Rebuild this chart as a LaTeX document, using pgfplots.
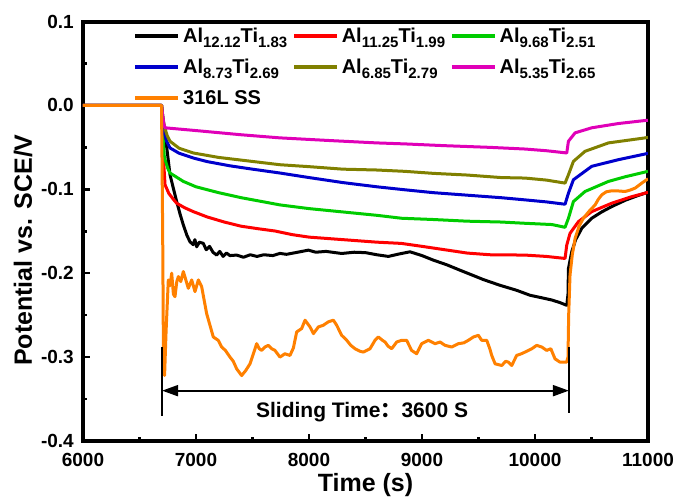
\documentclass[border=0pt]{standalone}
\usepackage{fontspec}
\setmainfont{Liberation Sans}
\newfontfamily\cjk{Noto Sans CJK SC}
\usepackage{pgfplots}
\pgfplotsset{compat=1.18}
\usetikzlibrary{arrows.meta}
\definecolor{cred}{HTML}{FF0000}
\definecolor{cgreen}{HTML}{00CC00}
\definecolor{cblue}{HTML}{0000CC}
\definecolor{colive}{HTML}{808000}
\definecolor{cmag}{HTML}{E000B8}
\definecolor{corange}{HTML}{FF8000}
\newcommand{\sbs}[1]{\raisebox{-5pt}{\fontsize{15}{15}\selectfont #1}}
\begin{document}
\begin{tikzpicture}
\path[use as bounding box] (-83pt,-55pt) rectangle (592pt,441pt);
\begin{axis}[
  width=565pt, height=419.5pt, scale only axis,
  xmin=6000, xmax=11000, ymin=-0.4, ymax=0.1,
  xtick={6000,7000,8000,9000,10000,11000},
  xticklabels={6000,7000,8000,9000,10000,11000},
  ytick={-0.4,-0.3,-0.2,-0.1,0,0.1},
  yticklabels={-0.4,-0.3,-0.2,-0.1,0.0,0.1},
  minor x tick num=1, minor y tick num=1,
  tick align=inside, tick pos=left,
  major tick length=7pt, minor tick length=4pt,
  every tick/.append style={black, line width=2.5pt},
  axis line style={line width=4pt},
  ticklabel style={font=\fontsize{19}{19}\selectfont\bfseries},
  xticklabel style={anchor=base, yshift=-25pt},
  yticklabel style={anchor=east, inner xsep=0pt, xshift=-9pt},
  xlabel={Time (s)}, ylabel={Potential vs. SCE/V},
  label style={font=\fontsize{25}{25}\selectfont\bfseries},
  xlabel style={at={(axis description cs:0.5,-0.121)}, anchor=base},
  ylabel style={at={(axis description cs:-0.0903,0.455)}, anchor=base},
  legend columns=3,
  legend style={draw=none, fill=none, at={(axis cs:6420,0.097)}, anchor=north west,
    font=\fontsize{20}{22}\selectfont\bfseries, column sep=0pt, row sep=11pt,
    nodes={inner xsep=3pt},
    /tikz/every even column/.append style={column sep=2pt}},
  legend cell align=left,
  legend image code/.code={\draw[#1, line width=3.5pt] (0pt,0pt) -- (43pt,0pt);},
  every axis plot/.append style={line width=3pt, line join=round},
]
\addplot[black] coordinates {(6000,0)(6695,0)(6705,-0.012)(6725,-0.035)(6741,-0.05)(6770,-0.0826)(6800,-0.099)(6829,-0.1146)(6860,-0.130)(6888,-0.1425)(6920,-0.155)(6947,-0.1625)(6975,-0.166)(6990,-0.160)(7006,-0.1685)(7030,-0.163)(7065,-0.1645)(7090,-0.172)(7120,-0.168)(7150,-0.175)(7183,-0.1784)(7210,-0.174)(7240,-0.180)(7270,-0.176)(7300,-0.179)(7360,-0.1784)(7420,-0.181)(7480,-0.178)(7540,-0.180)(7600,-0.178)(7680,-0.179)(7743,-0.1764)(7800,-0.1775)(7900,-0.175)(7994,-0.1725)(8060,-0.175)(8150,-0.174)(8289,-0.1765)(8400,-0.175)(8500,-0.1755)(8600,-0.178)(8702,-0.180)(8800,-0.177)(8894,-0.1745)(9000,-0.179)(9100,-0.1844)(9220,-0.190)(9336,-0.1964)(9440,-0.202)(9543,-0.2076)(9690,-0.2144)(9838,-0.2204)(9956,-0.2263)(10050,-0.229)(10150,-0.232)(10220,-0.235)(10281,-0.2383)(10292,-0.225)(10296,-0.1944)(10325,-0.1745)(10360,-0.160)(10414,-0.1465)(10502,-0.1345)(10590,-0.127)(10679,-0.1206)(10800,-0.113)(10900,-0.108)(10975,-0.1046)(11000,-0.1035)};
\addlegendentry{Al\sbs{12.12}Ti\sbs{1.83}}
\addplot[cred] coordinates {(6000,0)(6695,0)(6705,-0.04)(6715,-0.07)(6726,-0.0946)(6760,-0.105)(6800,-0.112)(6829,-0.1166)(6900,-0.122)(6976,-0.1266)(7100,-0.133)(7250,-0.139)(7400,-0.144)(7550,-0.147)(7699,-0.1497)(7850,-0.154)(8000,-0.157)(8200,-0.159)(8400,-0.161)(8600,-0.163)(8819,-0.1645)(9000,-0.168)(9200,-0.172)(9400,-0.176)(9600,-0.178)(9912,-0.1784)(10100,-0.180)(10266,-0.1824)(10281,-0.1665)(10310,-0.1525)(10384,-0.1386)(10502,-0.1266)(10679,-0.1166)(10850,-0.109)(10975,-0.1046)(11000,-0.1035)};
\addlegendentry{Al\sbs{11.25}Ti\sbs{1.99}}
\addplot[cgreen] coordinates {(6000,0)(6695,0)(6705,-0.03)(6720,-0.062)(6750,-0.075)(6770,-0.0806)(6888,-0.0906)(7000,-0.097)(7200,-0.104)(7400,-0.110)(7600,-0.115)(7743,-0.1186)(8000,-0.123)(8300,-0.127)(8600,-0.131)(8819,-0.1345)(9100,-0.136)(9400,-0.138)(9700,-0.139)(9912,-0.1405)(10150,-0.142)(10266,-0.1453)(10296,-0.1345)(10340,-0.1146)(10443,-0.1026)(10650,-0.0906)(10800,-0.085)(10975,-0.0794)(11000,-0.0785)};
\addlegendentry{Al\sbs{9.68}Ti\sbs{2.51}}
\addplot[cblue] coordinates {(6000,0)(6695,0)(6705,-0.02)(6720,-0.033)(6741,-0.043)(6770,-0.0507)(6850,-0.057)(6976,-0.0627)(7100,-0.067)(7300,-0.072)(7500,-0.076)(7743,-0.0806)(8000,-0.086)(8300,-0.092)(8600,-0.097)(8850,-0.1006)(9100,-0.104)(9400,-0.107)(9700,-0.110)(9912,-0.1126)(10100,-0.115)(10266,-0.1178)(10296,-0.1046)(10340,-0.0886)(10502,-0.0726)(10738,-0.0647)(10975,-0.0579)(11000,-0.057)};
\addlegendentry{Al\sbs{8.73}Ti\sbs{2.69}}
\addplot[colive] coordinates {(6000,0)(6695,0)(6705,-0.012)(6720,-0.025)(6745,-0.036)(6770,-0.0427)(6850,-0.051)(6976,-0.0567)(7200,-0.062)(7450,-0.066)(7743,-0.0707)(8000,-0.073)(8300,-0.076)(8600,-0.077)(8850,-0.0786)(9100,-0.081)(9400,-0.083)(9700,-0.086)(9912,-0.0866)(10100,-0.089)(10266,-0.0926)(10296,-0.0826)(10340,-0.0667)(10443,-0.0547)(10650,-0.0447)(10975,-0.0387)(11000,-0.038)};
\addlegendentry{Al\sbs{6.85}Ti\sbs{2.79}}
\addplot[cmag] coordinates {(6000,0)(6695,0)(6705,-0.012)(6715,-0.022)(6726,-0.0267)(7000,-0.030)(7400,-0.035)(7743,-0.0387)(8200,-0.042)(8600,-0.0447)(8850,-0.0459)(9200,-0.048)(9600,-0.050)(9912,-0.052)(10100,-0.054)(10281,-0.0567)(10296,-0.0427)(10355,-0.0327)(10502,-0.0267)(10738,-0.0216)(10975,-0.018)(11000,-0.0177)};
\addlegendentry{Al\sbs{5.35}Ti\sbs{2.65}}
\addplot[corange] coordinates {(6000,0)(6695,0)(6705,-0.15)(6712,-0.30)(6722,-0.322)(6735,-0.27)(6755,-0.208)(6770,-0.215)(6785,-0.200)(6800,-0.225)(6814,-0.228)(6830,-0.210)(6844,-0.204)(6865,-0.210)(6888,-0.198)(6910,-0.208)(6932,-0.218)(6962,-0.208)(6991,-0.222)(7021,-0.208)(7050,-0.216)(7094,-0.248)(7153,-0.276)(7197,-0.280)(7227,-0.288)(7260,-0.292)(7301,-0.300)(7330,-0.305)(7360,-0.314)(7404,-0.322)(7440,-0.316)(7478,-0.308)(7510,-0.295)(7537,-0.284)(7560,-0.290)(7581,-0.292)(7610,-0.288)(7640,-0.286)(7670,-0.290)(7699,-0.292)(7743,-0.300)(7787,-0.296)(7832,-0.298)(7862,-0.289)(7891,-0.270)(7935,-0.266)(7965,-0.256)(8009,-0.264)(8039,-0.272)(8083,-0.264)(8127,-0.262)(8171,-0.258)(8216,-0.256)(8245,-0.262)(8289,-0.274)(8334,-0.280)(8370,-0.286)(8407,-0.290)(8450,-0.293)(8481,-0.294)(8540,-0.290)(8584,-0.280)(8614,-0.276)(8650,-0.280)(8673,-0.282)(8700,-0.287)(8732,-0.290)(8776,-0.282)(8819,-0.280)(8864,-0.280)(8908,-0.292)(8953,-0.296)(8997,-0.284)(9056,-0.280)(9115,-0.284)(9160,-0.282)(9204,-0.286)(9263,-0.288)(9322,-0.284)(9370,-0.283)(9410,-0.280)(9455,-0.276)(9499,-0.274)(9528,-0.280)(9573,-0.280)(9600,-0.290)(9617,-0.298)(9647,-0.308)(9706,-0.310)(9740,-0.305)(9765,-0.306)(9794,-0.310)(9838,-0.298)(9880,-0.296)(9912,-0.294)(9972,-0.290)(10015,-0.286)(10060,-0.288)(10103,-0.292)(10140,-0.290)(10177,-0.302)(10221,-0.306)(10280,-0.306)(10292,-0.300)(10298,-0.250)(10310,-0.202)(10330,-0.178)(10355,-0.1585)(10390,-0.144)(10428,-0.1345)(10480,-0.126)(10532,-0.1186)(10560,-0.112)(10591,-0.1066)(10630,-0.103)(10679,-0.1018)(10740,-0.102)(10797,-0.1026)(10840,-0.101)(10886,-0.0986)(10945,-0.0926)(11000,-0.0875)};
\addlegendentry{316L SS}
\draw[line width=2.5pt] (axis cs:6700,-0.288) -- (axis cs:6700,-0.370);
\draw[line width=2.5pt] (axis cs:10300,-0.288) -- (axis cs:10300,-0.367);
\draw[line width=2pt, {Triangle[length=16pt,width=11pt]}-{Triangle[length=16pt,width=11pt]}] (axis cs:6700,-0.340) -- (axis cs:10300,-0.340);
\node[anchor=base, font=\fontsize{21}{21}\selectfont\bfseries, inner sep=0pt] at (axis cs:8470,-0.372) {Sliding Time{\cjk ：}3600 S};
\end{axis}
\end{tikzpicture}
\end{document}
